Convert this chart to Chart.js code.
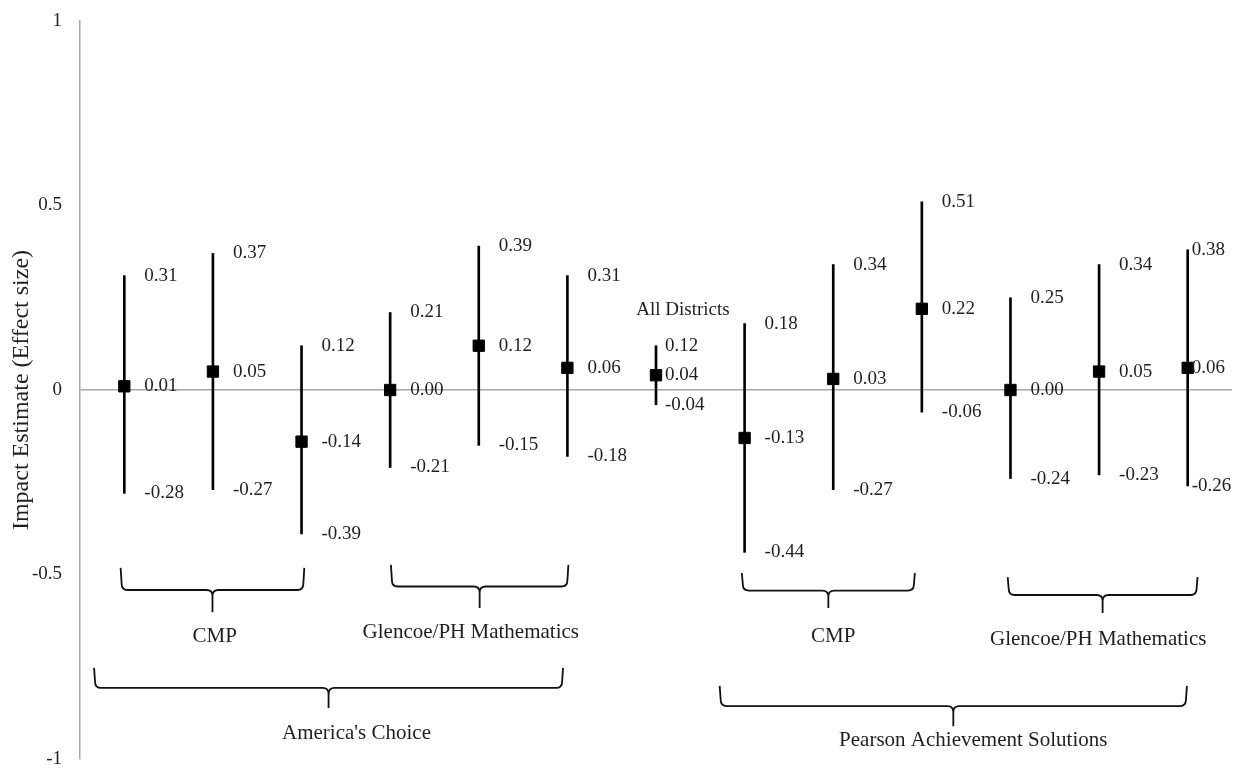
<!DOCTYPE html>
<html>
<head>
<meta charset="utf-8">
<script src="https://cdn.jsdelivr.net/npm/chart.js@4.4.0/dist/chart.umd.min.js"></script>
<style>
	body { margin: 0; background: #fff; }
	#wrap { width: 1241px; height: 775px; }
</style>
</head>
<body>
<div id="wrap"><canvas id="myChart" width="1241" height="775"></canvas></div>
<script>
	// 효과 크기 (점 추정치와 신뢰구간)
	var categories = ['', '', '', '', '', '', 'All Districts', '', '', '', '', '', ''];
	var estimates = [0.01, 0.05, -0.14, 0.00, 0.12, 0.06, 0.04, -0.13, 0.03, 0.22, 0.00, 0.05, 0.06];
	var upper = [0.31, 0.37, 0.12, 0.21, 0.39, 0.31, 0.12, 0.18, 0.34, 0.51, 0.25, 0.34, 0.38];
	var lower = [-0.28, -0.27, -0.39, -0.21, -0.15, -0.18, -0.04, -0.44, -0.27, -0.06, -0.24, -0.23, -0.26];
	var yTicks = [-1, -0.5, 0, 0.5, 1];

	// 묶음 표시 (중괄호) - 범위는 카테고리 번호, 높이는 y 값
	var groupLabels = ['CMP', 'Glencoe/PH Mathematics', "America's Choice", 'CMP', 'Glencoe/PH Mathematics', 'Pearson Achievement Solutions'];
	var braceLayout = [
		{ from: -0.03, to: 2.02, top: -0.482, tip: -0.602, lx: 1.02, ly: -0.669 },
		{ from: 3.02, to: 5.0, top: -0.474, tip: -0.591, lx: 3.91, ly: -0.656 },
		{ from: -0.33, to: 4.94, top: -0.753, tip: -0.862, lx: 2.62, ly: -0.93 },
		{ from: 6.98, to: 8.91, top: -0.496, tip: -0.591, lx: 8.0, ly: -0.667 },
		{ from: 9.98, to: 12.1, top: -0.507, tip: -0.604, lx: 10.99, ly: -0.675 },
		{ from: 6.73, to: 11.98, top: -0.802, tip: -0.911, lx: 9.58, ly: -0.949 }
	];

	var SERIF = "'Liberation Serif', 'Times New Roman', serif";
	var TEXT = '#1f1f1f';
	var GRAY = '#a6a6a6';

	function labelGap(i) {
		if (i == 6) return 9;
		if (i == 12) return 4;
		return 20;
	}

	var valueLabels = {
		id: 'valueLabels',
		afterDatasetsDraw: function(chart) {
			var ctx = chart.ctx;
			var xs = chart.scales.x, ys = chart.scales.y;
			ctx.save();
			ctx.fillStyle = TEXT;
			ctx.font = '19px ' + SERIF;
			ctx.textAlign = 'left';
			ctx.textBaseline = 'middle';
			for (var i = 0; i < estimates.length; i++) {
				var x = xs.getPixelForValue(i) + labelGap(i);
				ctx.fillText(upper[i].toFixed(2), x, ys.getPixelForValue(upper[i]));
				ctx.fillText(estimates[i].toFixed(2), x, ys.getPixelForValue(estimates[i]));
				ctx.fillText(lower[i].toFixed(2), x, ys.getPixelForValue(lower[i]));
				if (categories[i]) {
					ctx.textAlign = 'center';
					ctx.fillText(categories[i], xs.getPixelForValue(i) + 27, ys.getPixelForValue(upper[i]) - 36);
					ctx.textAlign = 'left';
				}
			}
			ctx.restore();
		}
	};

	function catPixel(xs, v) {
		// 카테고리 사이 위치도 계산
		var a = xs.getPixelForValue(0), b = xs.getPixelForValue(1);
		return a + (b - a) * v;
	}

	function $each(arr, fn) {
		for (var i = 0; i < arr.length; i++) fn(arr[i], i);
	}

	var braces = {
		id: 'braces',
		afterDraw: function(chart) {
			var ctx = chart.ctx;
			var xs = chart.scales.x, ys = chart.scales.y;
			ctx.save();
			ctx.strokeStyle = '#111';
			ctx.lineWidth = 1.8;
			ctx.lineJoin = 'round';
			$each(braceLayout, function(b, k) {
				var xl = catPixel(xs, b.from), xr = catPixel(xs, b.to);
				var xm = (xl + xr) / 2;
				var yt = ys.getPixelForValue(b.top), yp = ys.getPixelForValue(b.tip);
				var yh = (yt + yp) / 2;
				var r = 6;
				ctx.beginPath();
				ctx.moveTo(xl - 1, yt);
				ctx.lineTo(xl, yh - r);
				ctx.quadraticCurveTo(xl, yh, xl + r, yh);
				ctx.lineTo(xm - r, yh);
				ctx.quadraticCurveTo(xm, yh, xm, yh + r);
				ctx.lineTo(xm, yp);
				ctx.moveTo(xr + 1, yt);
				ctx.lineTo(xr, yh - r);
				ctx.quadraticCurveTo(xr, yh, xr - r, yh);
				ctx.lineTo(xm + r, yh);
				ctx.quadraticCurveTo(xm, yh, xm, yh + r);
				ctx.stroke();

				ctx.fillStyle = TEXT;
				ctx.font = '21px ' + SERIF;
				ctx.textAlign = 'center';
				ctx.textBaseline = 'middle';
				ctx.fillText(groupLabels[k], catPixel(xs, b.lx), ys.getPixelForValue(b.ly));
			});
			ctx.restore();
		}
	};

	var ctx = document.getElementById('myChart').getContext('2d');

	window.chart_main = new Chart(ctx, {
		type: 'bar',
		data: {
			labels: categories,
			datasets: [{
				type: 'line',
				label: 'Impact estimate',
				data: estimates,
				showLine: false,
				pointStyle: 'rect',
				pointRadius: 8,
				pointBorderWidth: 1,
				pointBackgroundColor: '#000',
				pointBorderColor: '#000',
				order: 1
			}, {
				type: 'bar',
				label: 'Range',
				data: lower.map(function(l, i) { return [l, upper[i]]; }),
				backgroundColor: '#000',
				barThickness: 2,
				order: 2
			}]
		},
		options: {
			responsive: false,
			animation: false,
			devicePixelRatio: 1,
			layout: {
				padding: { left: 0, top: 21, right: 9, bottom: 16 }
			},
			plugins: {
				legend: { display: false },
				tooltip: { enabled: false }
			},
			scales: {
				x: {
					display: false,
					offset: true
				},
				y: {
					min: -1,
					max: 1,
					afterBuildTicks: function(scale) {
						scale.ticks = yTicks.map(function(v) { return { value: v }; });
					},
					afterFit: function(scale) {
						scale.width = 80;
						// 눈금 여백이 위아래로 붙는 것 막기
						scale.paddingTop = 0;
						scale.paddingBottom = 0;
					},
					ticks: {
						color: TEXT,
						padding: 18,
						font: { family: SERIF, size: 19 },
						callback: function(v) { return String(v); }
					},
					grid: {
						drawTicks: false,
						lineWidth: 1.5,
						color: function(c) {
							return c.tick && c.tick.value === 0 ? GRAY : 'rgba(0,0,0,0)';
						}
					},
					border: { display: true, color: GRAY, width: 1.5 },
					title: {
						display: true,
						text: 'Impact Estimate (Effect size)',
						color: TEXT,
						padding: { top: 7, bottom: 0 },
						font: { family: SERIF, size: 24 }
					}
				}
			}
		},
		plugins: [valueLabels, braces]
	});
</script>
</body>
</html>
